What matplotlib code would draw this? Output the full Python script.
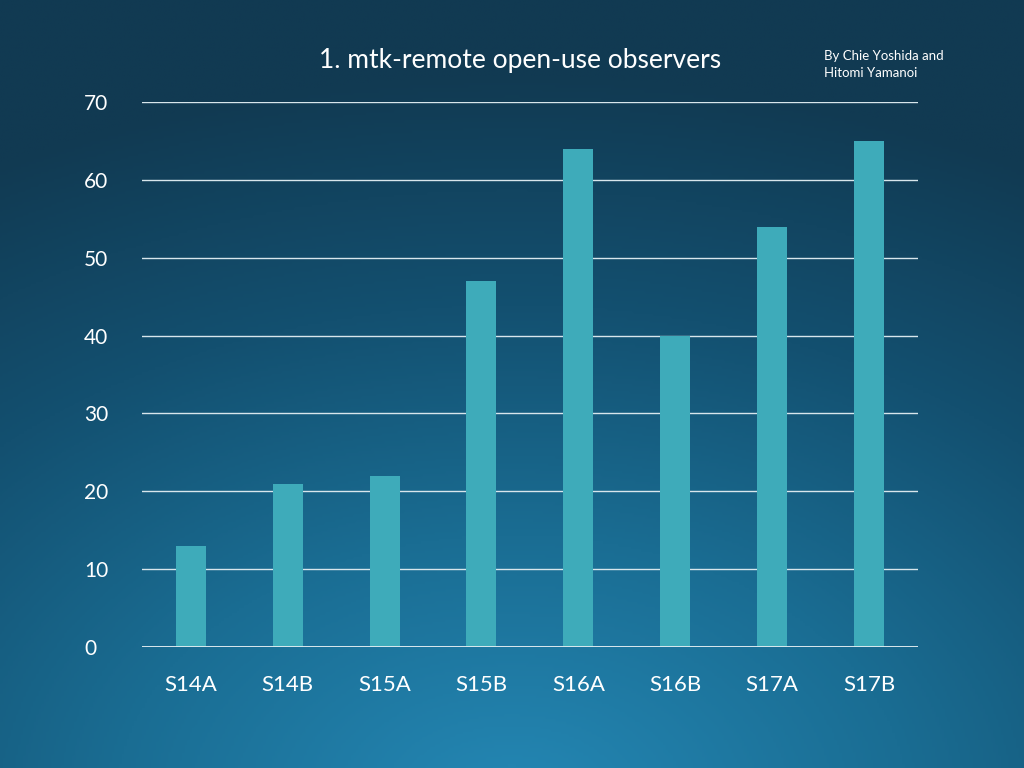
import numpy as np
import matplotlib
matplotlib.use("Agg")
import matplotlib.pyplot as plt
from matplotlib.colors import LinearSegmentedColormap

categories = ["S14A", "S14B", "S15A", "S15B", "S16A", "S16B", "S17A", "S17B"]
values = [13, 21, 22, 47, 64, 40, 54, 65]
yticks = [0, 10, 20, 30, 40, 50, 60, 70]

plt.rcParams['font.family'] = ['Lato', 'DejaVu Sans']
fig = plt.figure(figsize=(10.24, 7.68), dpi=100)

# background gradient
bg = fig.add_axes([0, 0, 1, 1])
yy, xx = np.mgrid[0:1:300j, 0:1:400j]
d = np.sqrt(((xx - 0.5) * 1.0) ** 2 + ((yy - 1.05) * 1.1) ** 2)
t = np.clip(1 - d / 1.05, 0, 1)
cmap = LinearSegmentedColormap.from_list("bg", ["#113a52", "#135070", "#1a6d93", "#2384b0"])
bg.imshow(t, cmap=cmap, origin="upper", extent=[0, 1, 0, 1], aspect="auto")
bg.axis("off")

ax = fig.add_axes([0.139, 0.1576, 0.757, 0.7094])
ax.set_facecolor("none")
x = np.arange(len(categories))
ax.bar(x, values, width=0.31, color="#3eabba", zorder=3)
ax.set_xlim(-0.5, len(categories) - 0.5)
ax.set_ylim(0, 70)
ax.set_yticks(yticks)
ax.set_yticklabels([str(v) for v in yticks], color="white", fontsize=15)
ax.set_xticks(x)
ax.set_xticklabels(categories, color="white", fontsize=16)
ax.tick_params(length=0)
ax.tick_params(axis="x", pad=20)
ax.tick_params(axis="y", pad=42)
for lab in ax.get_yticklabels():
    lab.set_horizontalalignment("left")
ax.grid(axis="y", color="#d8e6ec", linewidth=1, zorder=0)
ax.axhline(0, color="#e6eff3", linewidth=1.3, zorder=4)
for s in ax.spines.values():
    s.set_visible(False)

fig.text(0.508, 0.921, "1. mtk-remote open-use observers", color="white",
         fontsize=19, ha="center", va="center")
fig.text(0.805, 0.916, "By Chie Yoshida and\nHitomi Yamanoi", color="white",
         fontsize=9.5, ha="left", va="center", linespacing=1.5)

fig.savefig("out.png", dpi=100)
